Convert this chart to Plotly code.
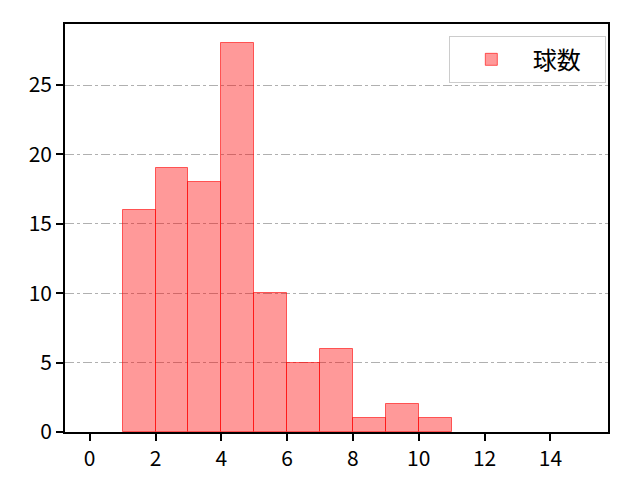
import plotly.graph_objects as go

# Histogram of pitch counts (bin width 1)
bin_left = [1, 2, 3, 4, 5, 6, 7, 8, 9, 10]
counts = [16, 19, 18, 28, 10, 5, 6, 1, 2, 1]
x_ticks = [0, 2, 4, 6, 8, 10, 12, 14]
y_ticks = [0, 5, 10, 15, 20, 25]

fig = go.Figure()
fig.add_trace(go.Bar(
    x=[b + 0.5 for b in bin_left],
    y=counts,
    width=1,
    name='球数',
    marker=dict(color='rgba(255,0,0,0.4)',
                line=dict(color='rgba(255,0,0,0.6)', width=1)),
    showlegend=True,
))

axis_common = dict(
    showline=True, linecolor='black', linewidth=1.6, mirror=True,
    ticks='outside', ticklen=7, tickwidth=1.6, tickcolor='black',
    zeroline=False, tickfont=dict(size=21),
)
fig.update_xaxes(range=[-0.75, 15.75], tickvals=x_ticks, showgrid=False, **axis_common)
fig.update_yaxes(range=[0, 29.4], tickvals=y_ticks, showgrid=True,
                 gridcolor='#b0b0b0', griddash='dashdot', gridwidth=1, **axis_common)

fig.update_layout(
    width=640, height=480,
    margin=dict(l=57, r=40, t=16, b=56),
    plot_bgcolor='white', paper_bgcolor='white',
    font=dict(family='Noto Sans CJK JP, DejaVu Sans', size=21, color='black'),
    bargap=0,
    legend=dict(orientation='h', x=0.996, y=0.97, xanchor='right', yanchor='top',
                bordercolor='#cccccc', borderwidth=1, bgcolor='white',
                font=dict(size=24), itemwidth=73,
                entrywidth=67, entrywidthmode='pixels'),
)

fig.write_html("out.html")
